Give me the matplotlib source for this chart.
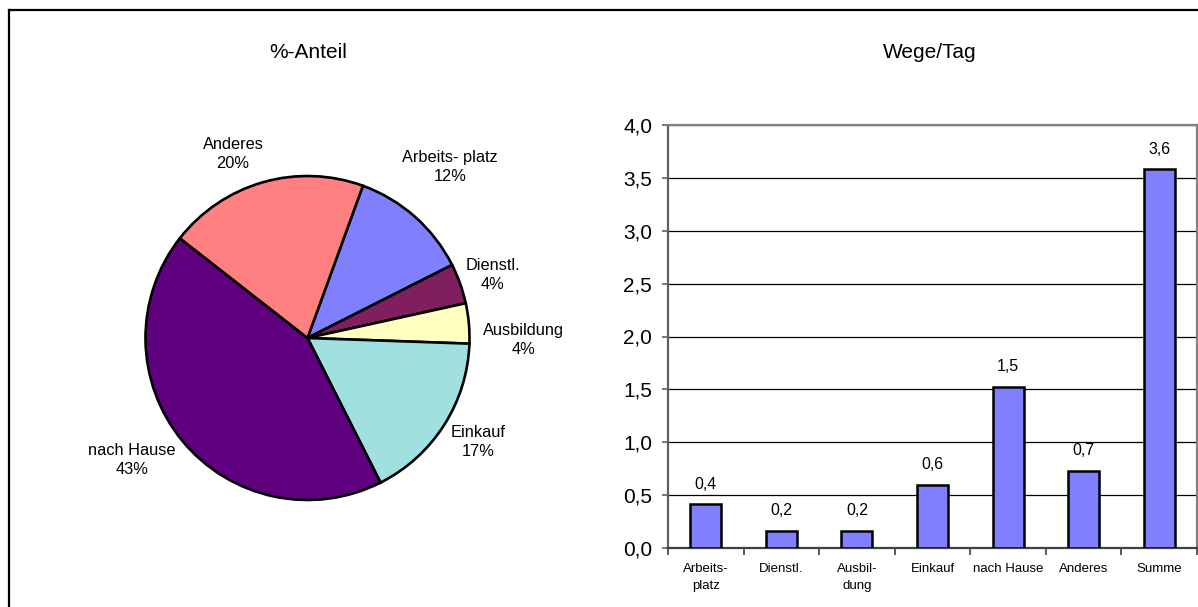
import matplotlib
matplotlib.use("Agg")
import matplotlib.pyplot as plt
from matplotlib.lines import Line2D
from matplotlib.ticker import FuncFormatter, FixedLocator

plt.rcParams["font.family"] = ["Liberation Sans", "DejaVu Sans"]

# --- data ---------------------------------------------------------------
pie_names = ["Arbeits- platz", "Dienstl.", "Ausbildung", "Einkauf", "nach Hause", "Anderes"]
pie_shares = [12, 4, 4, 17, 43, 20]  # percent
pie_colors = ["#8080FF", "#7F1F5F", "#FFFFC0", "#A0E0E0", "#5F007F", "#FF8080"]

bar_categories = ["Arbeits-\nplatz", "Dienstl.", "Ausbil-\ndung", "Einkauf",
                  "nach Hause", "Anderes", "Summe"]
trips_per_day = [0.415, 0.164, 0.164, 0.597, 1.525, 0.73, 3.58]
y_ticks = [0.0, 0.5, 1.0, 1.5, 2.0, 2.5, 3.0, 3.5, 4.0]

# --- figure -------------------------------------------------------------
W, H = 1198, 607
fig = plt.figure(figsize=(W / 100, H / 100), dpi=100)
fig.patch.set_facecolor("white")

# outer frame (left and top edges visible)
fx = 9 / W
fy = 1 - 10 / H
fig.add_artist(Line2D([fx, fx], [0, fy], transform=fig.transFigure, color="black", lw=1.6))
fig.add_artist(Line2D([fx, 1], [fy, fy], transform=fig.transFigure, color="black", lw=1.6))

# titles
fig.text(308 / W, 1 - 52 / H, "%-Anteil", ha="center", va="center", fontsize=15)
fig.text(930 / W, 1 - 52 / H, "Wege/Tag", ha="center", va="center", fontsize=15)

# --- pie ----------------------------------------------------------------
cx, cy, r = 307.5, 338, 162
ax_pie = fig.add_axes([(cx - r) / W, (H - cy - r) / H, 2 * r / W, 2 * r / H])
ax_pie.pie(pie_shares, colors=pie_colors, startangle=70, counterclock=False,
           wedgeprops=dict(edgecolor="black", linewidth=1.9))
ax_pie.set_xlim(-1, 1)
ax_pie.set_ylim(-1, 1)
ax_pie.set_aspect("equal")
ax_pie.axis("off")

label_xy = [(0.88, 1.056), (1.145, 0.389), (1.336, -0.012),
            (1.052, -0.642), (-1.083, -0.753), (-0.46, 1.136)]
for name, share, (lx, ly) in zip(pie_names, pie_shares, label_xy):
    ax_pie.text(lx, ly, f"{name}\n{share:.0f}%", ha="center", va="center",
                fontsize=11.8, linespacing=1.35, clip_on=False)

# --- bars ---------------------------------------------------------------
left, right, top, bottom = 668, 1197, 125, 548
ax = fig.add_axes([left / W, (H - bottom) / H, (right - left) / W, (bottom - top) / H])
x = list(range(len(bar_categories)))
ax.bar(x, trips_per_day, width=0.41, color="#8080FF", edgecolor="black",
       linewidth=1.8, zorder=3)
ax.set_xlim(-0.5, len(bar_categories) - 0.5)
ax.set_ylim(0, 4)

for xi, v in zip(x, trips_per_day):
    ax.annotate(f"{v:.1f}".replace(".", ","), (xi, v), xytext=(0, 9),
                textcoords="offset points", ha="center", va="bottom", fontsize=11.5)

ax.yaxis.set_major_locator(FixedLocator(y_ticks))
ax.yaxis.set_major_formatter(FuncFormatter(lambda v, p: f"{v:.1f}".replace(".", ",")))
ax.grid(axis="y", color="black", linewidth=0.9, zorder=0)
ax.tick_params(axis="y", labelsize=15, length=4.5, width=1.2, pad=7, color="#606060")

ax.set_xticks(x)
ax.set_xticklabels(bar_categories, fontsize=9.5, linespacing=1.55)
ax.set_xticks([i + 0.5 for i in range(-1, len(bar_categories))], minor=True)
ax.tick_params(axis="x", which="major", length=0, pad=11)
ax.tick_params(axis="x", which="minor", length=5, width=1.2, color="#404040", direction="out")

for side in ("top", "right"):
    ax.spines[side].set_color("#808080")
    ax.spines[side].set_linewidth(1.6)
ax.spines["left"].set_color("#606060")
ax.spines["left"].set_linewidth(1.6)
ax.spines["bottom"].set_color("#404040")
ax.spines["bottom"].set_linewidth(1.6)
ax.set_axisbelow(True)

fig.savefig("out.png", dpi=100, facecolor="white")
